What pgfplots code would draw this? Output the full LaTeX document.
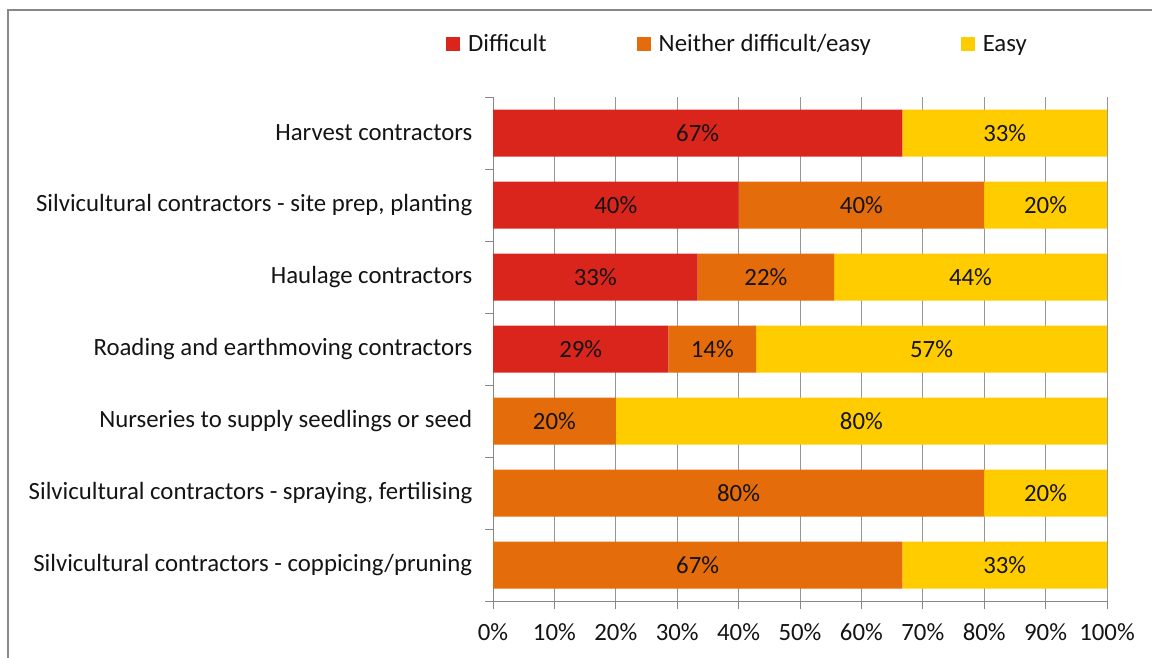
\documentclass[border=0pt]{standalone}
\usepackage{pgfplots}
\pgfplotsset{compat=1.18}
\usepackage{pgfplotstable}
\usepackage{fontspec}
\setmainfont{Carlito}
\definecolor{cRed}{RGB}{218,37,29}
\definecolor{cOrange}{RGB}{228,108,10}
\definecolor{cYellow}{RGB}{255,204,0}
\definecolor{axisgray}{RGB}{134,134,134}
\definecolor{gridgray}{RGB}{150,150,150}
\definecolor{framegray}{RGB}{136,136,136}
\definecolor{txt}{RGB}{20,20,20}
\pgfplotstableread{
y v l
0 66.67 67\%
1 40 40\%
2 33.33 33\%
3 28.57 29\%
4 0 {}
5 0 {}
6 0 {}
}\difficult
\pgfplotstableread{
y v l
0 0 {}
1 40 40\%
2 22.22 22\%
3 14.29 14\%
4 20 20\%
5 80 80\%
6 66.67 67\%
}\neither
\pgfplotstableread{
y v l
0 33.33 33\%
1 20 20\%
2 44.44 44\%
3 57.14 57\%
4 80 80\%
5 20 20\%
6 33.33 33\%
}\easy
\newcommand\myfont{\fontsize{18.6pt}{22pt}\selectfont}
\begin{document}
\begin{tikzpicture}
\useasboundingbox (0pt,0pt) rectangle (864pt,-492.75pt);
\draw[framegray, line width=1.2pt] (6pt,-7.5pt) rectangle (880pt,-510pt);
\begin{axis}[
  at={(369.75pt,-450.75pt)}, anchor=south west,
  scale only axis, width=460.5pt, height=378pt,
  xbar stacked, bar width=35.25pt,
  xmin=0, xmax=100, ymin=-0.5, ymax=6.5, y dir=reverse,
  axis x line*=bottom, axis y line*=left,
  axis line style={draw=axisgray, line width=0.75pt, -},
  tick style={draw=axisgray, line width=0.75pt},
  tick align=outside, major tick length=6pt,
  xtick={0,10,...,100},
  xticklabels={0\%,10\%,20\%,30\%,40\%,50\%,60\%,70\%,80\%,90\%,100\%},
  xmajorgrids, grid style={draw=gridgray, line width=0.75pt},
  ytick={-0.5,0.5,...,6.5}, yticklabels={},
  extra y ticks={0,1,2,3,4,5,6},
  extra y tick labels={Harvest contractors,
    {Silvicultural contractors - site prep, planting},
    Haulage contractors,
    Roading and earthmoving contractors,
    Nurseries to supply seedlings or seed,
    {Silvicultural contractors - spraying, fertilising},
    Silvicultural contractors - coppicing/pruning},
  extra y tick style={major tick length=0pt, yticklabel style={xshift=-12pt}},
  ticklabel style={font=\myfont, text=txt},
  xticklabel style={yshift=-7.5pt},
  legend columns=3,
  legend style={at={(-0.0766,1.105)}, anchor=west, draw=none, fill=none,
    font=\myfont, text=txt, inner sep=0pt,
    nodes={inner xsep=2.5pt},
    /tikz/every even column/.append style={column sep=65pt}},
  legend cell align=left,
  legend image code/.code={\fill[#1] (0pt,-5.25pt) rectangle (10.5pt,5.25pt); \path (14pt,0pt);},
  point meta=explicit symbolic,
  nodes near coords={\pgfplotspointmeta},
  nodes near coords style={anchor=center, font=\myfont, text=txt, inner sep=0pt},
]
\addplot[fill=cRed, draw=none] table[x=v, y=y, meta=l] {\difficult};
\addplot[fill=cOrange, draw=none] table[x=v, y=y, meta=l] {\neither};
\addplot[fill=cYellow, draw=none] table[x=v, y=y, meta=l] {\easy};
\legend{Difficult, Neither difficult/easy, Easy}
\end{axis}
\end{tikzpicture}
\end{document}
